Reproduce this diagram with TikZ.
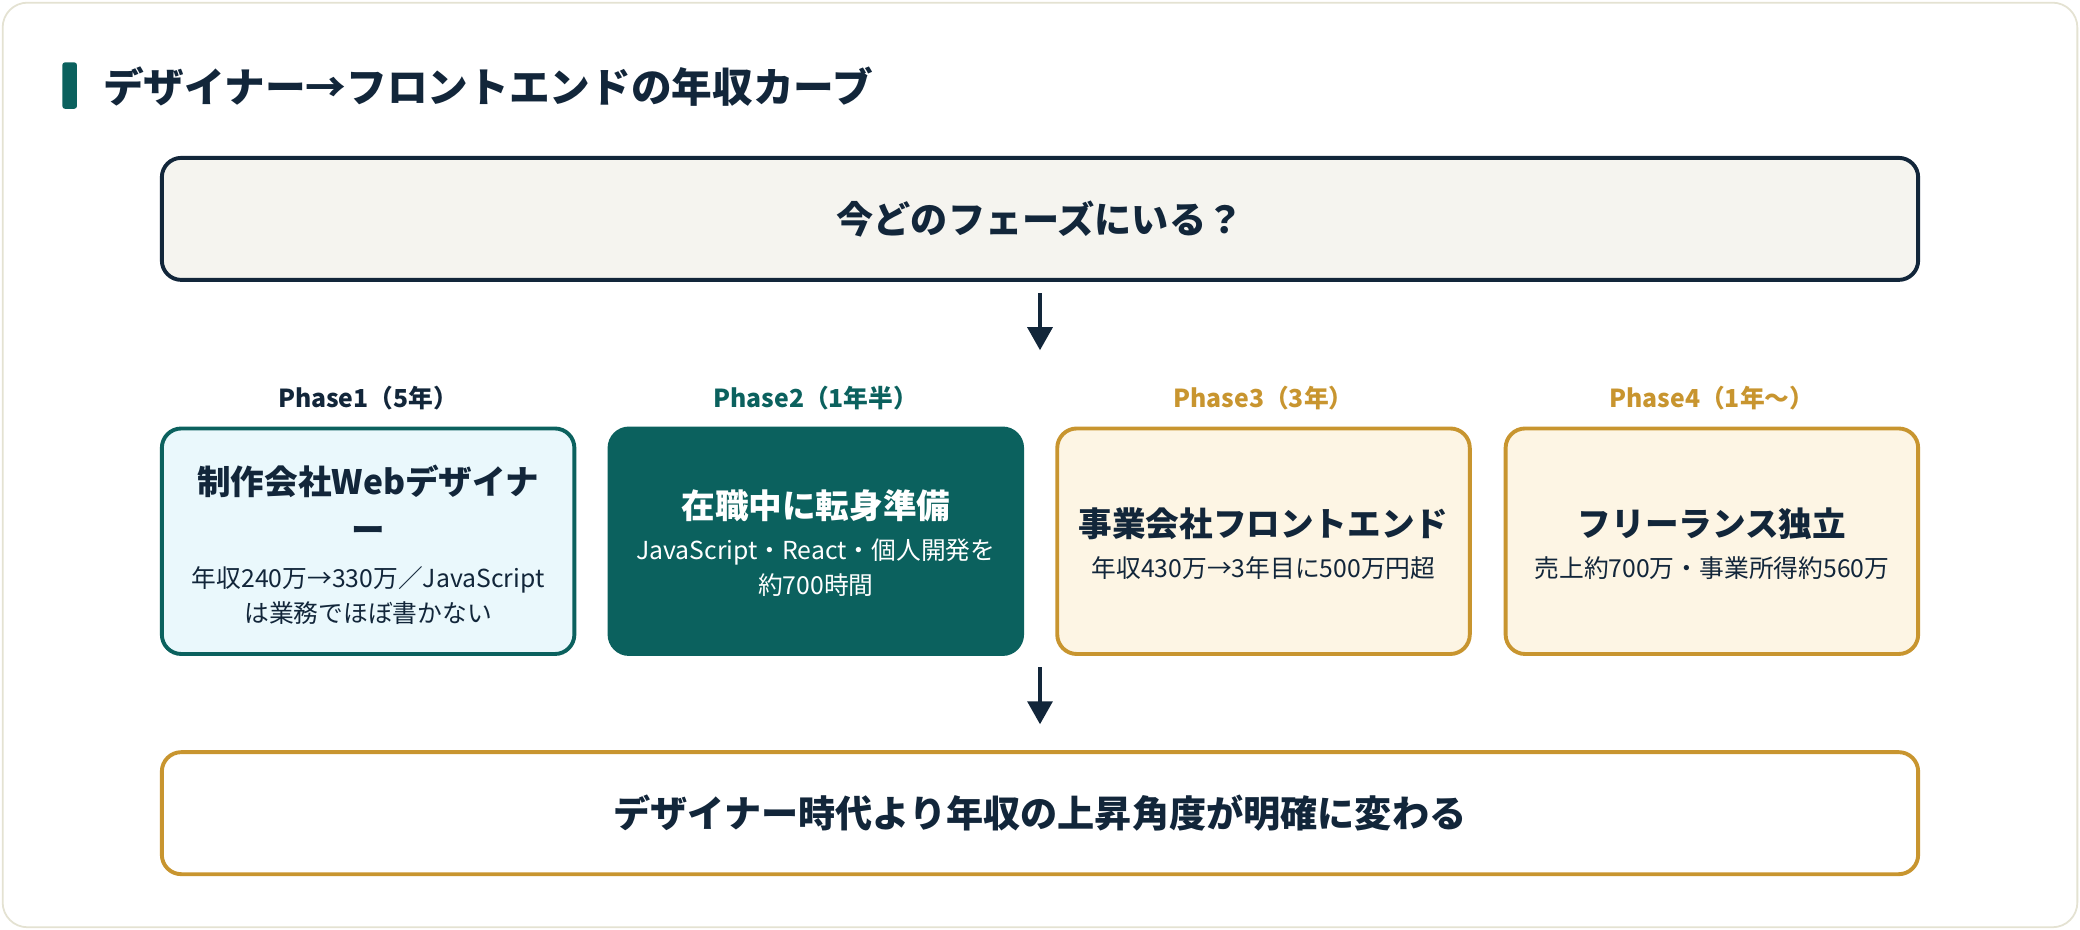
\documentclass[tikz,border=0pt]{standalone}
\usepackage{fontspec}
\usetikzlibrary{arrows.meta}
\setmainfont{Noto Sans CJK JP}
\definecolor{navy}{HTML}{12263A}
\definecolor{teal}{HTML}{0B615E}
\definecolor{gold}{HTML}{C8952F}
\definecolor{cream}{HTML}{FDF5E4}
\definecolor{ice}{HTML}{EAF8FC}
\definecolor{grey}{HTML}{F5F4EF}
\definecolor{edge}{HTML}{E4E2D2}
\begin{document}
\begin{tikzpicture}[x=0.75pt,y=-0.75pt,
  box/.style={draw,line width=2.2pt,rounded corners=11pt,align=center,inner sep=0pt},
  arr/.style={line width=2.2pt,draw=navy,-{Triangle[length=13pt,width=14pt]}},
  lbl/.style={font=\bfseries\fontsize{14}{16}\selectfont},
  bt/.style={align=center,inner sep=0pt,font=\bfseries\fontsize{19}{27}\selectfont},
  bb/.style={align=center,inner sep=0pt,font=\fontsize{14}{20}\selectfont}]
\useasboundingbox (0,0) rectangle (1568,701);
\draw[edge,line width=1pt,fill=white,rounded corners=14pt] (2,2) rectangle (1566,699);
\fill[teal,rounded corners=1.5pt] (47,47) rectangle (58,82);
\node[anchor=west,text=navy,font=\bfseries\fontsize{23}{26}\selectfont] (title) at (73,65) {デザイナー→フロントエンドの年収カーブ};
\node[box,draw=navy,fill=grey,minimum width=1324*0.75pt,minimum height=92*0.75pt,text=navy,font=\bfseries\fontsize{21}{24}\selectfont] (q) at (784,165) {今どのフェーズにいる？};
\coordinate (a1) at (784,221); \coordinate (a2) at (784,264);
\draw[arr] (a1) -- (a2);
\foreach \i/\x/\fc/\dc in {1/277.5/ice/teal,2/615/teal/teal,3/952.5/cream/gold,4/1290.5/cream/gold}{
  \node[box,draw=\dc,fill=\fc,minimum width=311*0.75pt,minimum height=170*0.75pt] (p\i) at (\x,408) {};
}
\node[lbl,text=navy] (l1) at (277.5,300) {Phase1（5年）};
\node[lbl,text=teal] (l2) at (615,300) {Phase2（1年半）};
\node[lbl,text=gold] (l3) at (952.5,300) {Phase3（3年）};
\node[lbl,text=gold] (l4) at (1290.5,300) {Phase4（1年〜）};
\node[bt,text=navy] (t1) at (277.5,380) {制作会社Webデザイナ\\ー};
\node[bb,text=navy] (s1) at (277.5,449) {年収240万→330万／JavaScript\\は業務でほぼ書かない};
\node[bt,text=white] (t2) at (615,381) {在職中に転身準備};
\node[bb,text=white] (s2) at (615,428) {JavaScript・React・個人開発を\\約700時間};
\node[bt,text=navy] (t3) at (952.5,395) {事業会社フロントエンド};
\node[bb,text=navy] (s3) at (952.5,428) {年収430万→3年目に500万円超};
\node[bt,text=navy] (t4) at (1290.5,395) {フリーランス独立};
\node[bb,text=navy] (s4) at (1290.5,428) {売上約700万・事業所得約560万};
\coordinate (b1) at (784,503); \coordinate (b2) at (784,546);
\draw[arr] (b1) -- (b2);
\node[box,draw=gold,fill=white,minimum width=1324*0.75pt,minimum height=92*0.75pt,text=navy,font=\bfseries\fontsize{21}{24}\selectfont] (r) at (784,613) {デザイナー時代より年収の上昇角度が明確に変わる};
\end{tikzpicture}
\end{document}
